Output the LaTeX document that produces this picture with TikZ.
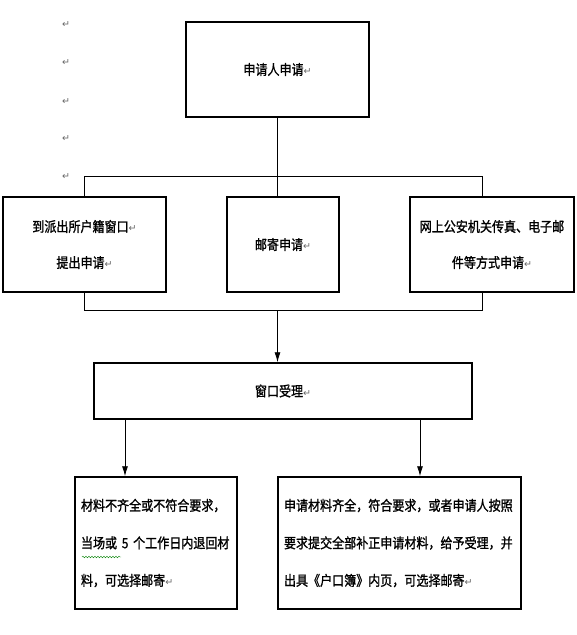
\documentclass[tikz,border=0pt]{standalone}
\usepackage{fontspec}
\setmainfont{Noto Sans CJK SC}[FakeStretch=0.86,FakeBold=1.2]
\newfontfamily\markfont{DejaVu Sans}
\usetikzlibrary{arrows.meta,calc,decorations.pathmorphing}
\usepackage{xcolor}
\newcommand{\pmark}{{\markfont\fontsize{9.5}{9.5}\selectfont\color{black!60}↵}}

\begin{document}
\begin{tikzpicture}[x=1pt,y=-1pt,
  box/.style={draw,line width=1.5pt,inner sep=0pt,font=\fontsize{14}{36}\selectfont},
  textbox/.style={box,align=left,inner xsep=6pt,font=\fontsize{14}{37.5}\selectfont},
  link/.style={line width=0.9pt},
  arr/.style={link,-{Latex[length=10pt,width=6pt]}}]

\useasboundingbox (0,0) rectangle (577,635);

% paragraph marks on the left
\node (m1) at (66,25) {\pmark};
\node (m2) at (66,63) {\pmark};
\node (m3) at (66,102) {\pmark};
\node (m4) at (66,139) {\pmark};
\node (m5) at (66,177) {\pmark};

\node[box,minimum width=183pt,minimum height=95pt] (apply) at (277.5,69.5) {申请人申请\pmark};

\node[box,minimum width=163pt,minimum height=95pt,align=center] (window) at (84.5,244.5) {到派出所户籍窗口\pmark\\提出申请\pmark};
\node[box,minimum width=112pt,minimum height=95pt] (post) at (283,244.5) {邮寄申请\pmark};
\node[box,minimum width=164pt,minimum height=95pt,align=center] (online) at (492,244.5) {网上公安机关传真、电子邮\\件等方式申请\pmark};

\node[box,minimum width=378pt,minimum height=56pt] (accept) at (283,391) {窗口受理\pmark};

\node[textbox,text width=150pt,minimum height=132pt] (reject) at (156,543) {材料不齐全或不符合要求，\\当场或~5~个工作日内退回材\\料，可选择邮寄\pmark};
\node[textbox,text width=231pt,minimum height=132pt] (ok) at (399.5,543) {申请材料齐全，符合要求，或者申请人按照\\要求提交全部补正申请材料，给予受理，并\\出具《户口簿》内页，可选择邮寄\pmark};

\draw[green!50!black,decorate,decoration={snake,amplitude=0.8pt,segment length=3pt}] (82,557) -- (121,557);

\coordinate (busR) at (482,176);
\coordinate (busL) at (482,310);

\draw[link] (apply.south) -- (apply.south |- post.north);
\draw[link] (window.north) |- (busR) -- (busR |- online.north);
\draw[link] (window.south) |- (busL) -- (busL |- online.south);
\draw[arr] (apply.south |- busL) -- (apply.south |- accept.north);

\draw[arr] ([xshift=-31pt]reject.north |- accept.south) -- ([xshift=-31pt]reject.north);
\draw[arr] ([xshift=20.5pt]ok.north |- accept.south) -- ([xshift=20.5pt]ok.north);

\end{tikzpicture}
\end{document}
